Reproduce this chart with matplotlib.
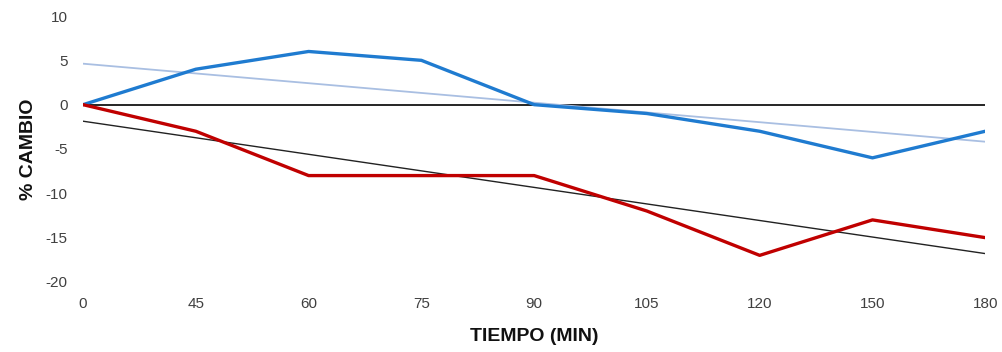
import numpy as np
import matplotlib
matplotlib.use("Agg")
import matplotlib.pyplot as plt

plt.rcParams['font.family'] = ['Liberation Sans Narrow', 'Liberation Sans', 'DejaVu Sans']
plt.rcParams['axes.unicode_minus'] = False

tiempos = ['0', '45', '60', '75', '90', '105', '120', '150', '180']
serie_azul = [0, 4, 6, 5, 0, -1, -3, -6, -3]
serie_roja = [0, -3, -8, -8, -8, -12, -17, -13, -15]

x = np.arange(len(tiempos))

fig = plt.figure(figsize=(10.03, 3.52), dpi=100)
ax = fig.add_axes([0.0828, 0.199, 0.8995, 0.7555])

# eje horizontal en 0
ax.axhline(0, color='black', lw=1.2, zorder=1)

# lineas de tendencia (regresion lineal)
pa = np.polyfit(x, serie_azul, 1)
pr = np.polyfit(x, serie_roja, 1)
ax.plot(x, np.polyval(pa, x), color='#a9bfe2', lw=1.3, zorder=2)
ax.plot(x, np.polyval(pr, x), color='#222222', lw=1.0, zorder=2)

ax.plot(x, serie_azul, color='#1f7bd0', lw=2.4, zorder=3)
ax.plot(x, serie_roja, color='#c00000', lw=2.4, zorder=3)

ax.set_xlim(0, len(tiempos) - 1)
ax.set_ylim(-20, 10)
ax.set_yticks([10, 5, 0, -5, -10, -15, -20])
ax.set_xticks(x)
ax.set_xticklabels(tiempos)

for s in ax.spines.values():
    s.set_visible(False)
ax.tick_params(length=0, labelsize=11, labelcolor='#404040')
ax.tick_params(axis='y', pad=11)
ax.tick_params(axis='x', pad=11)

ax.set_ylabel('% CAMBIO', fontsize=14, fontweight='bold', color='#111111', labelpad=6)
ax.set_xlabel('TIEMPO (MIN)', fontsize=14, fontweight='bold', color='#111111', labelpad=12)

fig.savefig('out.png', dpi=100)
